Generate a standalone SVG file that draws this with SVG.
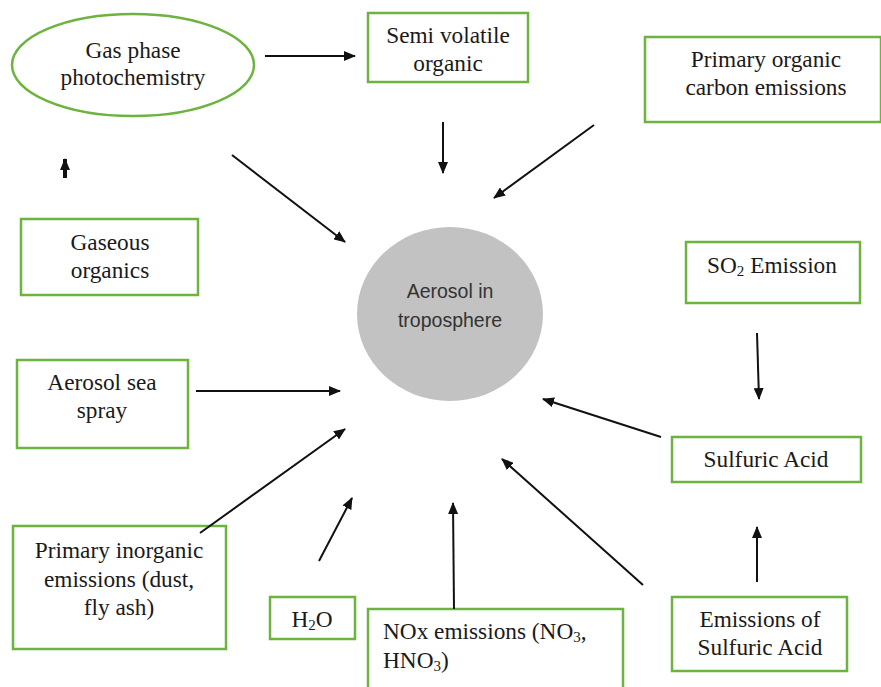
<svg xmlns="http://www.w3.org/2000/svg" width="881" height="687" viewBox="0 0 881 687">
<style>
.box{fill:#fff;stroke:#6db33f;stroke-width:2.5}
.t{font-family:"Liberation Serif","Times New Roman",serif;font-size:23.3px;fill:#1a1a1a;text-anchor:middle}
.s{font-family:"Liberation Sans",Arial,sans-serif;font-size:19.5px;fill:#333;text-anchor:middle}
.sub{font-size:15px}
.c{stroke:#111;stroke-width:2;fill:none;marker-end:url(#ah)}
</style>
<defs>
<marker id="ah" viewBox="0 0 12 10" refX="11" refY="5" markerWidth="12" markerHeight="10" markerUnits="userSpaceOnUse" orient="auto">
<path d="M0,0 L12,5 L0,10 Z" fill="#111"/>
</marker>
</defs>
<rect width="881" height="687" fill="#fff"/>
<g id="aerosol">
<ellipse cx="450" cy="314" rx="93" ry="87" fill="#c2c2c2"/>
<text class="s" x="450" y="298">Aerosol in</text>
<text class="s" x="450" y="327">troposphere</text>
</g>
<g id="gasphase">
<ellipse class="box" cx="133" cy="65" rx="121" ry="51"/>
<text class="t" x="133" y="58">Gas phase</text>
<text class="t" x="133" y="85">photochemistry</text>
</g>
<g id="semivolatile">
<rect class="box" x="368" y="13" width="160" height="69"/>
<text class="t" x="448" y="43">Semi volatile</text>
<text class="t" x="448" y="71">organic</text>
</g>
<g id="primaryorganic">
<rect class="box" x="645" y="37" width="236" height="85"/>
<text class="t" x="766" y="67">Primary organic</text>
<text class="t" x="766" y="95">carbon emissions</text>
</g>
<g id="gaseous">
<rect class="box" x="21" y="219" width="177" height="76"/>
<text class="t" x="110" y="250">Gaseous</text>
<text class="t" x="110" y="278">organics</text>
</g>
<g id="so2">
<rect class="box" x="686" y="242" width="174" height="61"/>
<text class="t" x="772" y="273">SO<tspan class="sub" dy="3">2</tspan><tspan dy="-3"> Emission</tspan></text>
</g>
<g id="seaspray">
<rect class="box" x="17" y="360" width="171" height="88"/>
<text class="t" x="102" y="390">Aerosol sea</text>
<text class="t" x="102" y="418">spray</text>
</g>
<g id="sulfuric">
<rect class="box" x="672" y="437" width="189" height="45"/>
<text class="t" x="766" y="467">Sulfuric Acid</text>
</g>
<g id="inorganic">
<rect class="box" x="13" y="526" width="213" height="123"/>
<text class="t" x="119" y="558">Primary inorganic</text>
<text class="t" x="119" y="587">emissions (dust,</text>
<text class="t" x="119" y="615">fly ash)</text>
</g>
<g id="h2o">
<rect class="box" x="270" y="597" width="85" height="42"/>
<text class="t" x="312" y="627">H<tspan class="sub" dy="3">2</tspan><tspan dy="-3">O</tspan></text>
</g>
<g id="nox">
<rect class="box" x="368" y="609" width="255" height="90"/>
<text class="t" x="383" y="639" style="text-anchor:start">NOx emissions (NO<tspan class="sub" dy="3">3</tspan><tspan dy="-3">,</tspan></text>
<text class="t" x="383" y="668" style="text-anchor:start">HNO<tspan class="sub" dy="3">3</tspan><tspan dy="-3">)</tspan></text>
</g>
<g id="emsulfuric">
<rect class="box" x="672" y="597" width="175" height="74"/>
<text class="t" x="760" y="627">Emissions of</text>
<text class="t" x="760" y="655">Sulfuric Acid</text>
</g>
<g id="connectors">
<line class="c" x1="265" y1="56" x2="355" y2="56"/>
<line class="c" x1="443" y1="122" x2="443" y2="173"/>
<line class="c" x1="594" y1="125" x2="494" y2="198"/>
<line class="c" x1="65" y1="178" x2="65" y2="159" style="stroke-width:4"/>
<line class="c" x1="232" y1="155" x2="345" y2="242"/>
<line class="c" x1="196" y1="391" x2="340" y2="391"/>
<line class="c" x1="200" y1="533" x2="345" y2="429"/>
<line class="c" x1="319" y1="561" x2="352" y2="498"/>
<line class="c" x1="454" y1="609" x2="453" y2="503"/>
<line class="c" x1="643" y1="585" x2="502" y2="459"/>
<line class="c" x1="661" y1="437" x2="543" y2="399"/>
<line class="c" x1="757" y1="333" x2="759" y2="399"/>
<line class="c" x1="757" y1="582" x2="757" y2="527"/>
</g>
</svg>
